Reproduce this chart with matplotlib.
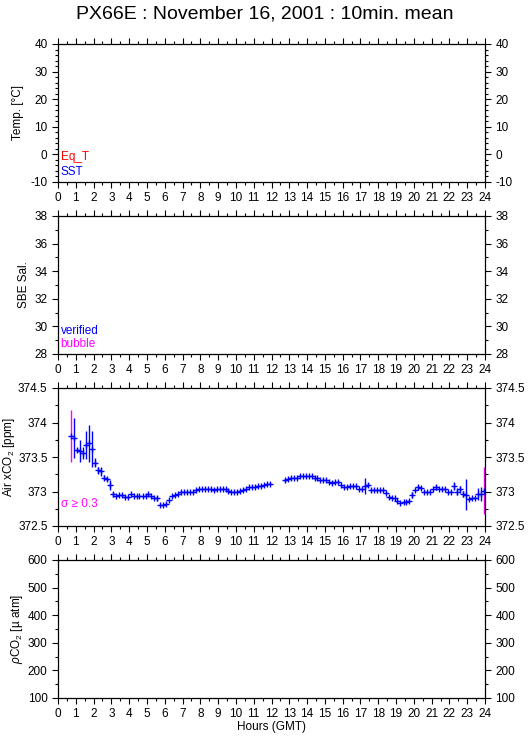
import numpy as np
import matplotlib
matplotlib.use('Agg')
import matplotlib.pyplot as plt
from matplotlib.ticker import MultipleLocator, FormatStrFormatter

plt.rcParams['font.family'] = ['Liberation Sans', 'DejaVu Sans']
plt.rcParams['mathtext.fontset'] = 'custom'
plt.rcParams['mathtext.rm'] = 'Liberation Sans'
plt.rcParams['mathtext.it'] = 'Liberation Sans:italic'

title = 'PX66E : November 16, 2001 : 10min. mean'

# air xCO2, 10 min means (hours GMT)
hours = [0.75, 0.92, 1.08, 1.25, 1.42, 1.58, 1.75, 1.92, 2.08, 2.25, 2.42, 2.58,
         2.75, 2.92, 3.08, 3.25, 3.42, 3.58, 3.75, 3.92, 4.08, 4.25, 4.42, 4.58,
         4.75, 4.92, 5.08, 5.25, 5.42, 5.58, 5.75, 5.92, 6.08, 6.25, 6.42, 6.58,
         6.75, 6.92, 7.08, 7.25, 7.42, 7.58, 7.75, 7.92, 8.08, 8.25, 8.42, 8.58,
         8.75, 8.92, 9.08, 9.25, 9.42, 9.58, 9.75, 9.92, 10.08, 10.25, 10.42, 10.58,
         10.75, 10.92, 11.08, 11.25, 11.42, 11.58, 11.75, 11.92,
         12.75, 12.92, 13.08, 13.25, 13.42, 13.58, 13.75, 13.92, 14.08, 14.25, 14.42, 14.58,
         14.75, 14.92, 15.08, 15.25, 15.42, 15.58, 15.75, 15.92, 16.08, 16.25, 16.42, 16.58,
         16.75, 16.92, 17.08, 17.25, 17.42, 17.58, 17.75, 17.92, 18.08, 18.25, 18.42, 18.58,
         18.75, 18.92, 19.08, 19.25, 19.42, 19.58, 19.75, 19.92, 20.08, 20.25, 20.42, 20.58,
         20.75, 20.92, 21.08, 21.25, 21.42, 21.58, 21.75, 21.92, 22.08, 22.25, 22.42, 22.58,
         22.75, 22.92, 23.08, 23.25, 23.42, 23.58, 23.75, 23.92]

xco2 = [373.80, 373.78, 373.60, 373.59, 373.56, 373.67, 373.70, 373.61, 373.42, 373.31,
        373.29, 373.20, 373.18, 373.09, 372.96, 372.93, 372.95, 372.95, 372.92, 372.92,
        372.96, 372.93, 372.93, 372.93, 372.93, 372.94, 372.96, 372.93, 372.91, 372.90,
        372.81, 372.81, 372.82, 372.87, 372.93, 372.95, 372.97, 373.00, 373.00, 373.00,
        373.00, 373.00, 373.02, 373.04, 373.04, 373.04, 373.04, 373.03, 373.02, 373.03,
        373.03, 373.04, 373.03, 373.01, 373.00, 373.00, 373.00, 373.01, 373.02, 373.03,
        373.06, 373.06, 373.06, 373.08, 373.08, 373.09, 373.11, 373.11,
        373.16, 373.18, 373.20, 373.20, 373.20, 373.23, 373.23, 373.22, 373.22, 373.23,
        373.19, 373.19, 373.16, 373.17, 373.17, 373.14, 373.13, 373.14, 373.14, 373.09,
        373.06, 373.07, 373.08, 373.08, 373.08, 373.03, 373.03, 373.08, 373.09, 373.02,
        373.02, 373.02, 373.02, 373.02, 372.98, 372.92, 372.91, 372.90, 372.86, 372.84,
        372.85, 372.85, 372.86, 372.95, 373.02, 373.06, 373.05, 373.00, 372.99, 373.00,
        373.03, 373.06, 373.04, 373.04, 373.04, 372.99, 373.00, 373.08, 373.00, 373.03,
        372.96, 372.95, 372.89, 372.90, 372.91, 372.96, 372.96, 373.01]

sigma = [0.375, 0.29, 0.03, 0.157, 0.085, 0.20, 0.27, 0.26, 0.07, 0.05,
         0.06, 0.04, 0.03, 0.07, 0.035, 0.01, 0.01, 0.01, 0.01, 0.01,
         0.01, 0.01, 0.01, 0.01, 0.01, 0.01, 0.01, 0.01, 0.01, 0.035,
         0.01, 0.01, 0.01, 0.01, 0.01, 0.01, 0.01, 0.01, 0.01, 0.01,
         0.01, 0.01, 0.01, 0.01, 0.01, 0.01, 0.01, 0.01, 0.01, 0.01,
         0.01, 0.01, 0.01, 0.01, 0.01, 0.01, 0.01, 0.01, 0.01, 0.01,
         0.01, 0.01, 0.01, 0.01, 0.01, 0.01, 0.01, 0.01,
         0.02, 0.01, 0.01, 0.01, 0.01, 0.01, 0.01, 0.01, 0.01, 0.01,
         0.01, 0.01, 0.01, 0.01, 0.01, 0.01, 0.01, 0.01, 0.01, 0.01,
         0.01, 0.01, 0.01, 0.01, 0.02, 0.01, 0.01, 0.12, 0.03, 0.01,
         0.01, 0.01, 0.01, 0.01, 0.01, 0.01, 0.01, 0.01, 0.01, 0.01,
         0.01, 0.01, 0.01, 0.04, 0.01, 0.035, 0.01, 0.01, 0.01, 0.01,
         0.01, 0.035, 0.01, 0.01, 0.01, 0.01, 0.01, 0.06, 0.045, 0.045,
         0.045, 0.225, 0.01, 0.01, 0.01, 0.087, 0.10, 0.34]

hours = np.array(hours)
xco2 = np.array(xco2)
sigma = np.array(sigma)

# label, ymin, ymax, major, minor, ylabel x (axes coords)
panels = [
    ('Temp. [°C]', -10, 40, 10, 2, -0.080),
    ('SBE Sal.', 28, 38, 2, 1, -0.066),
    ('Air xCO$_2$ [ppm]', 372.5, 374.5, 0.5, 0.25, -0.097),
    ('$\\rho$CO$_2$ [µ atm]', 100, 600, 100, 50, -0.078),
]

W, H = 529, 739
fig = plt.figure(figsize=(W / 100, H / 100), dpi=100)
fig.text(0.5, 1 - 14 / H, title, ha='center', va='center', fontsize=14)

tops = [44, 216, 388, 560]
axes = []
for i, (lab, lo, hi, maj, mnr, lx) in enumerate(panels):
    t = tops[i]
    ax = fig.add_axes([58 / W, 1 - (t + 138) / H, 427 / W, 138 / H])
    ax.set_xlim(0, 24)
    ax.set_ylim(lo, hi)
    ax.xaxis.set_major_locator(MultipleLocator(1))
    ax.xaxis.set_minor_locator(MultipleLocator(0.5))
    ax.yaxis.set_major_locator(MultipleLocator(maj))
    ax.yaxis.set_minor_locator(MultipleLocator(mnr))
    ax.yaxis.set_major_formatter(FormatStrFormatter('%g'))
    ax.tick_params(which='both', direction='out', top=True, right=True,
                   labelright=True, labelsize=8.5, width=0.8)
    ax.tick_params(which='major', length=4, pad=3.5)
    ax.tick_params(which='minor', length=2.2)
    for s in ax.spines.values():
        s.set_linewidth(0.9)
    ax.set_ylabel(lab, fontsize=8.5)
    ax.yaxis.set_label_coords(lx, 0.5)
    axes.append(ax)

# legends
axes[0].text(0.006, 0.18, 'Eq_T', color='red', fontsize=8.5, transform=axes[0].transAxes, va='center')
axes[0].text(0.006, 0.075, 'SST', color='blue', fontsize=8.5, transform=axes[0].transAxes, va='center')
axes[1].text(0.006, 0.17, 'verified', color='blue', fontsize=8.5, transform=axes[1].transAxes, va='center')
axes[1].text(0.006, 0.072, 'bubble', color='magenta', fontsize=8.5, transform=axes[1].transAxes, va='center')
axes[2].text(0.006, 0.16, 'σ ≥ 0.3', color='magenta', fontsize=8.5, transform=axes[2].transAxes, va='center')

# xCO2 with error bars
big = sigma >= 0.3
ax = axes[2]
ax.errorbar(hours[~big], xco2[~big], yerr=sigma[~big], fmt='+', color='blue',
            ms=4, mew=1, elinewidth=1, capsize=0)
ax.errorbar(hours[big], xco2[big], yerr=sigma[big], fmt='+', color='blue',
            ms=4, mew=1, elinewidth=1, capsize=0, ecolor='magenta')

axes[3].set_xlabel('Hours (GMT)', fontsize=8.5)
axes[3].xaxis.set_label_coords(0.5, -0.165)

plt.savefig('out.png', dpi=100)
